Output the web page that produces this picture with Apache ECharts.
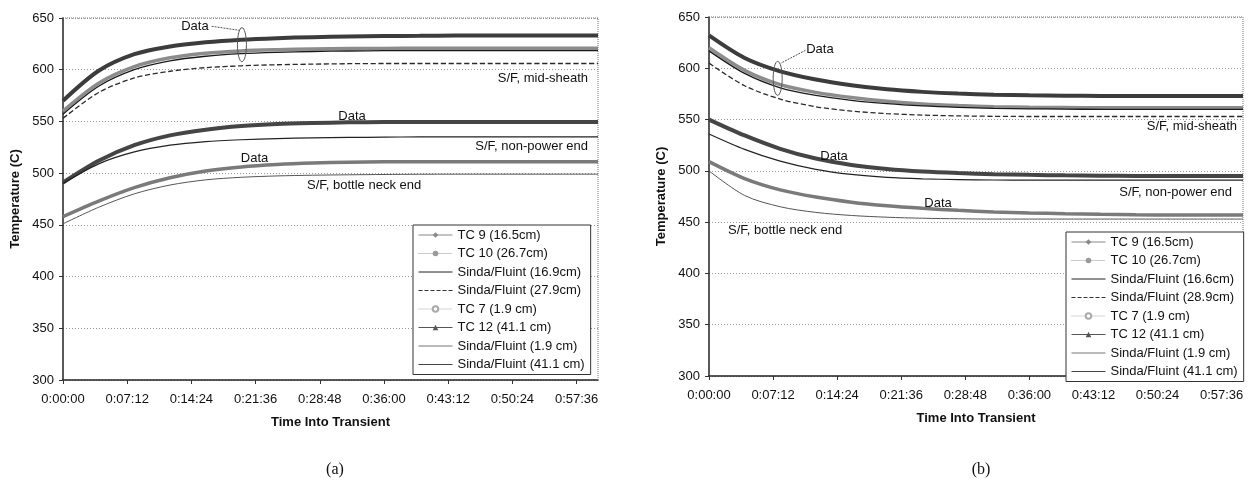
<!DOCTYPE html>
<html>
<head>
<meta charset="utf-8">
<script src="https://cdn.jsdelivr.net/npm/echarts@6/dist/echarts.min.js"></script>
<style>
html,body{margin:0;padding:0;background:#fff;}
#c{width:1252px;height:488px;}
</style>
</head>
<body>
<div id="c"></div>
<script>
// ---- data (time in seconds into transient) ----
const timeSec = [0, 240, 480, 720, 960, 1200, 1440, 1680, 1920, 2160, 2400, 2640, 2880, 3120, 3360, 3600];
const xTickLabels = ['0:00:00','0:07:12','0:14:24','0:21:36','0:28:48','0:36:00','0:43:12','0:50:24','0:57:36'];
const yTicks = [300, 350, 400, 450, 500, 550, 600, 650];

// (a) heat-up transient
const namesA = ['TC 9 (16.5cm)','TC 10 (26.7cm)','Sinda/Fluint (16.9cm)','Sinda/Fluint (27.9cm)','TC 7 (1.9 cm)','TC 12 (41.1 cm)','Sinda/Fluint (1.9 cm)','Sinda/Fluint (41.1 cm)'];
const a_tc9   = [570, 599, 615, 622.5, 626.5, 629, 630.5, 631.5, 632.2, 632.6, 632.8, 633, 633, 633, 633, 633];
const a_tc10  = [560, 587, 603, 611.5, 616, 618.2, 619.3, 620, 620.4, 620.6, 620.7, 620.7, 620.7, 620.7, 620.7, 620.7];
const a_sf169 = [557, 584, 600, 608.5, 613, 615.5, 616.8, 617.6, 618.1, 618.4, 618.5, 618.5, 618.5, 618.5, 618.5, 618.5];
const a_sf279 = [553, 578, 592, 598.5, 602, 603.8, 604.8, 605.4, 605.8, 606, 606, 606, 606, 606, 606, 606];
const a_tc7   = [458, 473, 486, 495.5, 502, 506, 508.4, 509.8, 510.5, 510.9, 511, 511, 511, 511, 511, 511];
const a_tc12  = [491, 512, 527, 536.5, 542, 545.5, 547.5, 548.5, 549.1, 549.4, 549.5, 549.5, 549.5, 549.5, 549.5, 549.5];
const a_sf19  = [451, 467, 480, 488.5, 493.5, 496, 497.3, 498, 498.4, 498.7, 498.9, 499, 499, 499, 499, 499];
const a_sf411 = [490, 509, 520.5, 527, 530.5, 532.3, 533.4, 534.1, 534.5, 534.8, 535, 535, 535, 535, 535, 535];

// (b) cool-down transient
const namesB = ['TC 9 (16.5cm)','TC 10 (26.7cm)','Sinda/Fluint (16.6cm)','Sinda/Fluint (28.9cm)','TC 7 (1.9 cm)','TC 12 (41.1 cm)','Sinda/Fluint (1.9 cm)','Sinda/Fluint (41.1 cm)'];
const b_tc9   = [632, 610, 597, 589, 583.5, 579.5, 577, 575.3, 574.3, 573.7, 573.3, 573.1, 573, 573, 573, 573];
const b_tc10  = [620, 598, 584, 576.5, 571.5, 567.8, 565.2, 563.6, 562.6, 562, 561.7, 561.5, 561.5, 561.5, 561.5, 561.5];
const b_sf166 = [617, 595, 581, 573.5, 568.8, 565.5, 563.3, 561.9, 561, 560.5, 560.2, 560, 560, 560, 560, 560];
const b_sf289 = [605, 583, 570, 562.5, 558.3, 555.8, 554.4, 553.6, 553.2, 553, 553, 553, 553, 553, 553, 553];
const b_tc7   = [509, 492.5, 481.5, 474.5, 469.5, 466, 463.5, 461.5, 460, 459, 458.2, 457.6, 457.2, 457, 457, 457];
const b_tc12  = [550, 534.5, 521.5, 512, 505.8, 501.8, 499.3, 497.8, 496.8, 496.1, 495.6, 495.3, 495.1, 495, 495, 495];
const b_sf19  = [500, 476, 465, 459.5, 456.5, 454.8, 453.8, 453.3, 453, 453, 453, 453, 453, 453, 453, 453];
const b_sf411 = [536, 521, 509.5, 501.5, 496.5, 493.6, 492.2, 491.5, 491.1, 491, 491, 491, 491, 491, 491, 491];

// annotations anchored in data coordinates [time s, temp C]
const annotA = [
  {text:'Data', at:[888, 641.6], align:'center'},
  {text:'S/F, mid-sheath', at:[3533, 592], align:'right'},
  {text:'Data', at:[1945, 554.6], align:'center'},
  {text:'S/F, non-power end', at:[3533, 525.6], align:'right'},
  {text:'Data', at:[1289, 514.3], align:'center'},
  {text:'S/F, bottle neck end', at:[1642, 488.5], align:'left'}
];
const annotB = [
  {text:'Data', at:[748, 618.5], align:'center'},
  {text:'S/F, mid-sheath', at:[3560, 543.7], align:'right'},
  {text:'Data', at:[843, 513.8], align:'center'},
  {text:'S/F, non-power end', at:[3526, 479.4], align:'right'},
  {text:'Data', at:[1544, 468.4], align:'center'},
  {text:'S/F, bottle neck end', at:[128, 442.3], align:'left'}
];
const ellipseA = {at:[1204, 624.2]}, leaderA = {from:[1000, 642], to:[1190, 638]};
const ellipseB = {at:[463, 590.2]}, leaderB = {from:[650, 617.5], to:[485, 605]};

// ---- styles ----
const FONT = '"Liberation Sans", Arial, sans-serif';
const styles = [
  {color:'#3c3c3c', width:4,   type:'solid',  symbol:'diamond',     legColor:'#888', legType:'solid',  mark:true},
  {color:'#8c8c8c', width:3.5, type:'solid',  symbol:'circle',      legColor:'#999', legType:'dotted', mark:true},
  {color:'#1a1a1a', width:1.3, type:'solid',  symbol:'none',        legColor:'#222', legType:'solid',  mark:false},
  {color:'#2a2a2a', width:1.3, type:'dashed', symbol:'none',        legColor:'#333', legType:'dashed', mark:false},
  {color:'#7a7a7a', width:3.5, type:'solid',  symbol:'emptyCircle', legColor:'#aaa', legType:'dotted', mark:true},
  {color:'#454545', width:4,   type:'solid',  symbol:'triangle',    legColor:'#555', legType:'solid',  mark:true},
  {color:'#555555', width:1,   type:'solid',  symbol:'none',        legColor:'#777', legType:'solid',  mark:false},
  {color:'#222222', width:1.2, type:'solid',  symbol:'none',        legColor:'#444', legType:'solid',  mark:false}
];
const dataA = [a_tc9, a_tc10, a_sf169, a_sf279, a_tc7, a_tc12, a_sf19, a_sf411];
const dataB = [b_tc9, b_tc10, b_sf166, b_sf289, b_tc7, b_tc12, b_sf19, b_sf411];

function mkSeries(names, datas, gi){
  return names.map((n,i)=>({
    name:n, type:'line', xAxisIndex:gi, yAxisIndex:gi,
    data: timeSec.map((t,k)=>[t, datas[i][k]]),
    smooth:0.3,
    symbol: styles[i].symbol, symbolSize:5, showSymbol:false,
    lineStyle:{color:styles[i].color, width:styles[i].width, type:styles[i].type},
    itemStyle:{color:styles[i].color},
    z: styles[i].width > 2 ? 2 : 3,
    emphasis:{disabled:true}
  }));
}
function mkLegend(names, left, top){
  return {
    orient:'vertical', left:left, top:top,
    backgroundColor:'#fff', borderColor:'#333', borderWidth:1, borderRadius:0,
    padding:[3,6,3,5], itemWidth:34, itemHeight:7, itemGap:4.5,
    selectedMode:false,
    textStyle:{fontFamily:FONT, fontSize:13, color:'#111', lineHeight:14},
    data: names.map((n,i)=>({name:n, lineStyle:{width:1, color:styles[i].legColor, type:styles[i].legType},
                             itemStyle: styles[i].mark ? {color:styles[i].legColor} : {opacity:0, color:'rgba(0,0,0,0)', borderWidth:0}}))
  };
}
function xAxis(gi){
  return {
    type:'value', gridIndex:gi, min:0, max:3600, interval:432,
    name:'Time Into Transient', nameLocation:'middle', nameGap:36,
    nameTextStyle:{fontFamily:FONT, fontSize:13, fontWeight:'bold', color:'#111'},
    axisLine:{lineStyle:{color:'#222', width:1.5}},
    axisTick:{show:true, length:4, lineStyle:{color:'#333'}},
    splitLine:{show:false},
    axisLabel:{fontFamily:FONT, fontSize:13, color:'#111', margin:13, showMaxLabel:false,
      formatter: v => (v % 432 === 0 && xTickLabels[v/432] !== undefined) ? xTickLabels[v/432] : ''}
  };
}
function yAxis(gi){
  return {
    type:'value', gridIndex:gi, min:yTicks[0], max:yTicks[yTicks.length-1], interval:50,
    name:'Temperature (C)', nameLocation:'middle', nameGap:41, nameRotate:90,
    nameTextStyle:{fontFamily:FONT, fontSize:13, fontWeight:'bold', color:'#111'},
    axisLine:{show:true, lineStyle:{color:'#222', width:1.5}},
    axisTick:{show:true, length:4, lineStyle:{color:'#333'}},
    splitLine:{show:true, lineStyle:{color:'#9a9a9a', type:[1,2], width:1}},
    axisLabel:{fontFamily:FONT, fontSize:13, color:'#111', margin:9}
  };
}

const chart = echarts.init(document.getElementById('c'), null, {renderer:'canvas'});
const option = {
  animation:false,
  backgroundColor:'#fff',
  grid:[
    {left:63, right:654, top:18, bottom:108, containLabel:false},
    {left:709, right:9, top:17, bottom:112, containLabel:false}
  ],
  xAxis:[xAxis(0), xAxis(1)],
  yAxis:[yAxis(0), yAxis(1)],
  legend:[mkLegend(namesA, 413, 225), mkLegend(namesB, 1066, 232)],
  title:[
    {text:'(a)', left:330, top:457, textAlign:'center', textStyle:{fontFamily:'"Liberation Serif", "Times New Roman", serif', fontSize:16, fontWeight:'normal', color:'#111'}},
    {text:'(b)', left:976, top:457, textAlign:'center', textStyle:{fontFamily:'"Liberation Serif", "Times New Roman", serif', fontSize:16, fontWeight:'normal', color:'#111'}}
  ],
  series:[...mkSeries(namesA, dataA, 0), ...mkSeries(namesB, dataB, 1)]
};
chart.setOption(option);

// graphic overlays computed from data coordinates
const g = [];
function px(gi, p){ return chart.convertToPixel({gridIndex:gi}, p); }
function addFrame(gi){
  const tl = px(gi,[0,650]), br = px(gi,[3600,300]);
  g.push({type:'polyline', shape:{points:[[tl[0],tl[1]],[br[0],tl[1]],[br[0],br[1]]]},
          style:{stroke:'#777', lineWidth:1, lineDash:[1,1], fill:null}, z:1, silent:true});
}
function addTexts(gi, list){
  list.forEach(a=>{
    const p = px(gi, a.at);
    g.push({type:'text', x:p[0], y:p[1], silent:true, z:10,
      style:{text:a.text, fill:'#111', font:'13px ' + FONT, align:a.align, verticalAlign:'middle',
             textAlign:a.align, textVerticalAlign:'middle'}});
  });
}
function addEllipse(gi, e, l){
  const c = px(gi, e.at);
  g.push({type:'ellipse', shape:{cx:c[0], cy:c[1], rx:4.5, ry:17}, style:{stroke:'#555', lineWidth:1, fill:null}, z:10, silent:true});
  const a = px(gi, l.from), b = px(gi, l.to);
  g.push({type:'line', shape:{x1:a[0], y1:a[1], x2:b[0], y2:b[1]}, style:{stroke:'#555', lineWidth:1, lineDash:[2,1]}, z:10, silent:true});
}
addFrame(0); addFrame(1);
addTexts(0, annotA); addTexts(1, annotB);
addEllipse(0, ellipseA, leaderA); addEllipse(1, ellipseB, leaderB);
chart.setOption({graphic:g});
</script>
</body>
</html>
